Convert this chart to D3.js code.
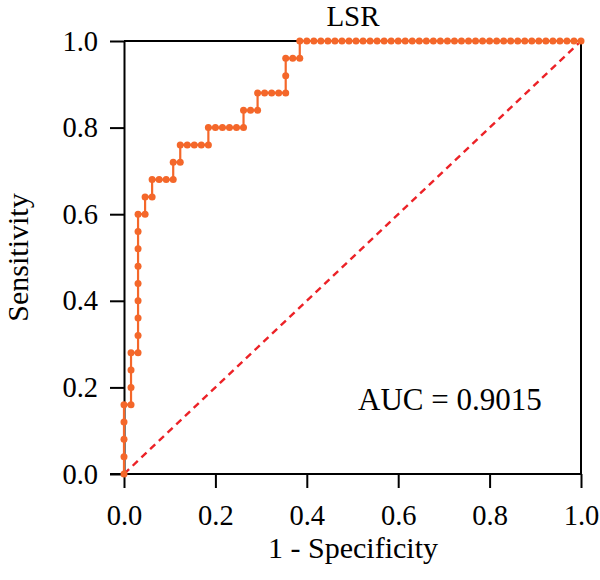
<!DOCTYPE html>
<html>
<head>
<meta charset="utf-8">
<script src="https://cdn.jsdelivr.net/npm/d3@7"></script>
<style>
  body { margin: 0; background: #fff; }
  text { font-family: "Liberation Serif", "Times New Roman", serif; fill: #000; }
  .axis path, .axis line { stroke: #000; stroke-width: 2; }
  .axis text { font-size: 28.5px; }
</style>
</head>
<body>
<script>
var w = 600;
var h = 580;

// ROC points as counts: false positives (of 65 negatives), true positives (of 25 positives)
var nNeg = 65;
var nPos = 25;
var fpCount = [0,0,0,0,0, 1,1,1,1, 2,2,2,2,2,2,2,2,2, 3,3, 4,4, 5,6,7,7, 8,8,
	9,10,11,12,12, 13,14,15,16,17,17, 18,19,19, 20,21,22,23,23,23, 24,25,25,
	26,27,28,29,30,31,32,33,34,35,36,37,38,39,40,41,42,43,44,45,
	46,47,48,49,50,51,52,53,54,55,56,57,58,59,60,61,62,63,64,65];
var tpCount = [0,1,2,3,4, 4,5,6,7, 7,8,9,10,11,12,13,14,15, 15,16, 16,17, 17,17,17,18, 18,19,
	19,19,19,19,20, 20,20,20,20,20,21, 21,21,22, 22,22,22,22,23,24, 24,24,25,
	25,25,25,25,25,25,25,25,25,25,25,25,25,25,25,25,25,25,25,25,
	25,25,25,25,25,25,25,25,25,25,25,25,25,25,25,25,25,25,25,25];

var xTicks = [0, 0.2, 0.4, 0.6, 0.8, 1.0];
var yTicks = [0, 0.2, 0.4, 0.6, 0.8, 1.0];
var refLine = [0, 1];
var aucLabel = "AUC = 0.9015";
var title = "LSR";

var dataset = fpCount.map(function(d, i) {
	return { fpr: d / nNeg, tpr: tpCount[i] / nPos };
});

var xScale = d3.scaleLinear().domain([0, 1]).range([124, 581]);
var yScale = d3.scaleLinear().domain([0, 1]).range([474, 41]);

var svg = d3.select("body")
			.append("svg")
			.attr("width", w)
			.attr("height", h);

//Frame top and right
svg.append("line")
	.attr("x1", xScale(0)).attr("x2", xScale(1))
	.attr("y1", yScale(1)).attr("y2", yScale(1))
	.attr("stroke", "#000").attr("stroke-width", 2);
svg.append("line")
	.attr("x1", xScale(1)).attr("x2", xScale(1))
	.attr("y1", yScale(1)).attr("y2", yScale(0))
	.attr("stroke", "#000").attr("stroke-width", 2);

//Axes
var xAxis = d3.axisBottom(xScale)
	.tickValues(xTicks)
	.tickSize(14)
	.tickSizeOuter(0)
	.tickPadding(17)
	.tickFormat(d3.format(".1f"));
var yAxis = d3.axisLeft(yScale)
	.tickValues(yTicks)
	.tickSize(14)
	.tickSizeOuter(0)
	.tickPadding(12)
	.tickFormat(d3.format(".1f"));

svg.append("g")
	.attr("class", "axis")
	.attr("transform", "translate(0," + yScale(0) + ")")
	.call(xAxis)
	.call(function(g) { g.select(".domain").attr("d", "M" + (xScale(0) - 14) + ",0H" + xScale(1)); });
svg.append("g")
	.attr("class", "axis")
	.attr("transform", "translate(" + xScale(0) + ",0)")
	.call(yAxis);

svg.selectAll(".axis text").attr("font-family", null);

//Diagonal reference
svg.append("line")
	.attr("x1", xScale(refLine[0])).attr("y1", yScale(refLine[0]))
	.attr("x2", xScale(refLine[1])).attr("y2", yScale(refLine[1]))
	.attr("stroke", "#ec2227")
	.attr("stroke-width", 2.4)
	.attr("stroke-dasharray", "7,5");

//ROC curve
var line = d3.line()
	.x(function(d) { return xScale(d.fpr); })
	.y(function(d) { return yScale(d.tpr); });
svg.append("path")
	.datum(dataset)
	.attr("fill", "none")
	.attr("stroke", "#f4672a")
	.attr("stroke-width", 2.2)
	.attr("d", line);
svg.selectAll("circle")
	.data(dataset)
	.enter()
	.append("circle")
	.attr("cx", function(d) { return xScale(d.fpr); })
	.attr("cy", function(d) { return yScale(d.tpr); })
	.attr("r", 3.5)
	.attr("fill", "#f4672a");

//Labels
svg.append("text")
	.attr("x", 353).attr("y", 26)
	.attr("text-anchor", "middle")
	.attr("font-size", 29)
	.text(title);
svg.append("text")
	.attr("x", 353).attr("y", 558)
	.attr("text-anchor", "middle")
	.attr("font-size", 30)
	.text("1 - Specificity");
svg.append("text")
	.attr("transform", "translate(28," + yScale(0.5) + ") rotate(-90)")
	.attr("text-anchor", "middle")
	.attr("font-size", 30)
	.text("Sensitivity");
svg.append("text")
	.attr("x", 358).attr("y", 410)
	.attr("font-size", 31)
	.text(aucLabel);
</script>
</body>
</html>
